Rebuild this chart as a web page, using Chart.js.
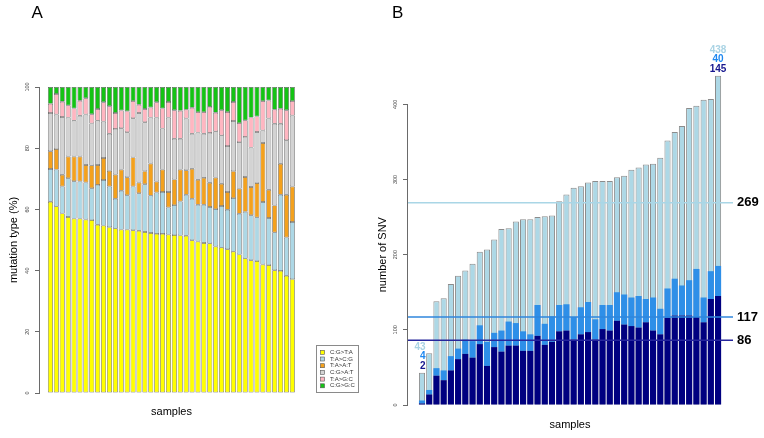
<!DOCTYPE html>
<html><head><meta charset="utf-8">
<script src="https://cdn.jsdelivr.net/npm/chart.js@4.4.1/dist/chart.umd.min.js"></script>
<style>
html,body{margin:0;padding:0;background:#fff;}
#wrap{position:relative;width:764px;height:438px;}
canvas{position:absolute;left:0;top:0;}
</style></head><body>
<div id="wrap"><canvas id="ca" width="764" height="438"></canvas><canvas id="cb" width="764" height="438"></canvas></div>
<script>
// ---------- Panel A: mutation type (%) per sample ----------
const typeLabels = ['C:G>T:A','T:A>C:G','T:A>A:T','C:G>A:T','T:A>G:C','C:G>G:C'];
const cgta = [62.5,61.0,58.7,57.5,57.0,57.0,56.7,56.5,55.0,54.7,54.2,53.8,53.4,53.4,53.2,53.0,52.6,52.3,52.0,52.0,51.8,51.6,51.5,51.4,49.9,49.5,49.0,48.9,47.9,47.5,47.0,46.2,45.3,44.0,43.4,43.1,42.0,41.8,40.1,39.9,38.3,37.2];
const tacg = [10.7,12.0,8.8,12.7,12.2,12.1,12.1,10.4,13.0,14.9,13.3,9.7,12.7,11.2,14.3,12.3,15.6,12.2,13.5,13.7,8.8,9.8,11.1,13.4,13.6,12.0,12.5,11.9,12.2,13.6,12.9,17.5,13.3,15.2,14.7,14.3,20.4,15.4,12.4,24.9,12.5,18.7];
const taat = [5.8,6.7,3.8,7.1,8.1,8.2,5.7,7.5,6.5,7.2,5.1,7.9,6.9,5.9,9.5,3.5,4.3,10.5,3.6,7.3,5.1,8.4,10.4,8.0,9.8,8.2,8.8,7.9,10.3,7.3,5.8,8.8,8.2,11.4,9.2,11.2,19.3,9.2,8.8,10.1,14.0,11.6];
const cgat = [12.5,11.3,18.9,12.7,11.7,13.3,16.5,13.7,14.5,11.9,12.1,14.9,13.5,14.7,12.8,22.7,16.0,15.0,20.9,13.4,24.3,13.3,10.1,16.9,11.4,15.4,14.4,16.3,15.1,15.8,15.0,16.4,15.2,13.1,12.9,16.7,4.1,23.3,26.7,13.1,17.8,23.2];
const tagc = [3.0,6.7,5.0,4.0,4.0,4.9,5.3,3.0,3.8,6.3,9.0,5.2,5.8,6.9,5.6,2.7,4.3,3.3,5.0,6.6,5.1,9.3,9.1,2.9,8.5,6.7,7.1,8.5,6.1,8.2,11.1,6.2,6.2,5.4,9.8,5.1,9.6,5.9,4.6,4.9,9.8,4.7];
const cggc = [5.5,2.3,4.8,6.0,7.0,4.5,3.7,8.9,7.2,5.0,6.3,8.5,7.7,7.9,4.6,5.8,7.2,6.7,5.0,7.0,4.9,7.6,7.8,7.4,6.8,8.2,8.2,6.5,8.4,7.6,8.2,4.9,11.8,10.9,10.0,9.6,4.6,4.4,7.4,7.1,7.6,4.6];
const pctTicks = [0,20,40,60,80,100];

// ---------- Panel B: number of SNV per sample ----------
const snvNavy  = [2,14,39,33,46,61,68,63,81,52,77,71,79,79,72,72,92,80,84,98,99,87,94,97,87,101,99,112,107,105,103,110,99,94,116,119,119,119,117,110,141,145];
const snvBlue  = [4,6,10,13,19,14,19,22,25,32,19,28,32,30,26,22,41,28,34,35,35,30,36,40,27,32,34,38,40,38,42,31,44,34,39,49,40,47,64,33,37,40];
const snvTotal = [43,69,138,142,161,172,179,188,204,207,220,234,235,244,247,247,250,251,252,271,280,289,291,296,298,298,298,303,305,313,316,320,321,329,352,363,371,395,398,406,407,438];
const refValues = [269,117,86];
const snvTicks = [0,100,200,300,400];

const samples = cgta.map((_, i) => i + 1);

const FONT = "'Liberation Sans', Arial, Helvetica, sans-serif";
Chart.defaults.font.family = FONT;
Chart.defaults.animation = false;
Chart.defaults.plugins.legend.display = false;
Chart.defaults.plugins.tooltip.enabled = false;

const typeColors = ['#FFFF00','#ADD8E6','#F4A11D','#D3D3D3','#FFB6C1','#14C314'];
const typeValues = [cgta, tacg, taat, cgat, tagc, cggc];
const snvColors = {navy:'#000080', blue:'#2E8FE8', light:'#ADD8E6'};
const refColors = ['#A9D6E6','#2F86DD','#26269C'];
const labelColors = ['#A9D3E4','#1E88F0','#16168F'];

const panelLabel = {
  id: 'panelLabel',
  afterDraw(chart, args, o) {
    const ctx = chart.ctx; ctx.save();
    ctx.font = '17px ' + FONT; ctx.fillStyle = '#000';
    ctx.textBaseline = 'alphabetic'; ctx.textAlign = 'left';
    ctx.fillText(o.text, o.x, o.y); ctx.restore();
  }
};

const boxLegend = {
  id: 'boxLegend',
  afterDraw(chart, args, o) {
    const ctx = chart.ctx; ctx.save();
    ctx.strokeStyle = '#8a8a8a'; ctx.lineWidth = 1;
    ctx.strokeRect(o.x + 0.5, o.y + 0.5, o.w, o.h);
    ctx.font = o.size + 'px ' + FONT; ctx.textBaseline = 'middle'; ctx.textAlign = 'left';
    chart.data.datasets.forEach((ds, i) => {
      const cy = o.y + o.first + i * o.step;
      ctx.fillStyle = ds.backgroundColor; ctx.fillRect(o.x + 4.5, cy - 2, 4, 4);
      ctx.strokeStyle = '#555'; ctx.lineWidth = 0.6; ctx.strokeRect(o.x + 4.5, cy - 2, 4, 4);
      ctx.fillStyle = '#333'; ctx.fillText(ds.label, o.x + 14, cy);
    });
    ctx.restore();
  }
};

function tickAxis(extra) {
  return Object.assign({
    grid: {display: true, drawOnChartArea: false, drawTicks: true, tickLength: 4, color: '#6a6a6a', lineWidth: 1},
    border: {display: true, color: '#6a6a6a', width: 1}
  }, extra);
}

new Chart(document.getElementById('ca'), {
  type: 'bar',
  data: {
    labels: samples,
    datasets: typeValues.map((vals, i) => ({
      label: typeLabels[i], data: vals, backgroundColor: typeColors[i],
      borderColor: '#616161', borderWidth: 0.7, borderSkipped: false,
      grouped: false, barPercentage: 1, categoryPercentage: 0.85
    }))
  },
  options: {
    responsive: false, maintainAspectRatio: false,
    layout: {padding: {left: 0, right: 460, top: 87, bottom: 0}},
    scales: {
      x: {type: 'linear', min: -0.942, max: 43.97, offset: false, stacked: true,
          ticks: {display: false}, grid: {display: false}, border: {display: false},
          title: {display: true, text: 'samples', color: '#000', font: {size: 11}, padding: {top: 0, bottom: 19.4}},
          afterFit(s) { s.height = 45; }},
      y: tickAxis({min: 0, max: 100, stacked: true,
          afterBuildTicks(s) { s.ticks = pctTicks.map(v => ({value: v})); },
          ticks: {minRotation: 90, maxRotation: 90, crossAlign: 'center', padding: 3, color: '#444', font: {size: 5.5}},
          title: {display: true, text: 'mutation type (%)', color: '#000', font: {size: 11}, padding: {top: 7.1, bottom: 0}},
          afterFit(s) { s.width = 39; }})
    },
    plugins: {
      panelLabel: {text: 'A', x: 31.5, y: 18},
      boxLegend: {x: 316, y: 345, w: 42, h: 47, first: 7.3, step: 6.7, size: 6}
    }
  },
  plugins: [panelLabel, boxLegend]
});

const refLines = {
  id: 'refLines',
  afterDatasetsDraw(chart) {
    const {ctx, chartArea, scales: {y}} = chart;
    ctx.save();
    refValues.forEach((v, i) => {
      const py = y.getPixelForValue(v);
      ctx.strokeStyle = refColors[i]; ctx.lineWidth = 1.5;
      ctx.beginPath(); ctx.moveTo(chartArea.left + 1, py); ctx.lineTo(chartArea.right, py); ctx.stroke();
      ctx.fillStyle = '#000'; ctx.font = 'bold 13px ' + FONT;
      ctx.textBaseline = 'middle'; ctx.textAlign = 'left';
      ctx.fillText(String(v), chartArea.right + 4, py);
    });
    // value labels above first and last bar: total, blue, navy
    const meta = chart.getDatasetMeta(2);
    const n = snvTotal.length;
    [[0, 'right'], [n - 1, 'center']].forEach(([idx, align]) => {
      const bar = meta.data[idx];
      const top = bar.y;
      const tx = align === 'right' ? bar.x + bar.width / 2 + 0.5 : bar.x;
      const texts = [snvTotal[idx], snvBlue[idx], snvNavy[idx]];
      ctx.font = 'bold 10px ' + FONT; ctx.textAlign = align; ctx.textBaseline = 'middle';
      texts.forEach((t, k) => {
        ctx.fillStyle = labelColors[k];
        ctx.fillText(String(t), tx, top - 6.6 - (2 - k) * 9.6);
      });
    });
    ctx.restore();
  }
};

new Chart(document.getElementById('cb'), {
  type: 'bar',
  data: {
    labels: samples,
    datasets: [
      {label: 'navy', data: snvNavy, stack: 's', backgroundColor: snvColors.navy, borderWidth: 0},
      {label: 'blue', data: snvBlue, stack: 's', backgroundColor: snvColors.blue, borderWidth: 0},
      {label: 'total', data: snvTotal, stack: 't', backgroundColor: snvColors.light, borderColor: '#8c8c8c', borderWidth: 1, borderSkipped: false}
    ].map(d => Object.assign(d, {grouped: false, clip: false, barPercentage: 1, categoryPercentage: 0.85}))
  },
  options: {
    responsive: false, maintainAspectRatio: false,
    layout: {padding: {left: 370, right: 31, top: 104.3, bottom: 0}},
    scales: {
      x: {type: 'linear', min: -1.078, max: 44.07, offset: false, stacked: true,
          ticks: {display: false}, grid: {display: false}, border: {display: false},
          title: {display: true, text: 'samples', color: '#000', font: {size: 11}, padding: {top: 0, bottom: 6.7}},
          afterFit(s) { s.height = 33; }},
      y: tickAxis({min: 0, max: 400, stacked: true,
          afterBuildTicks(s) { s.ticks = snvTicks.map(v => ({value: v})); },
          ticks: {minRotation: 90, maxRotation: 90, crossAlign: 'center', padding: 2.5, color: '#444', font: {size: 5.5}},
          title: {display: true, text: 'number of SNV', color: '#000', font: {size: 11}, padding: {top: 6.4, bottom: 0}},
          afterFit(s) { s.width = 37; }})
    },
    plugins: {
      panelLabel: {text: 'B', x: 392, y: 18}
    }
  },
  plugins: [panelLabel, refLines]
});
</script>
</body></html>
